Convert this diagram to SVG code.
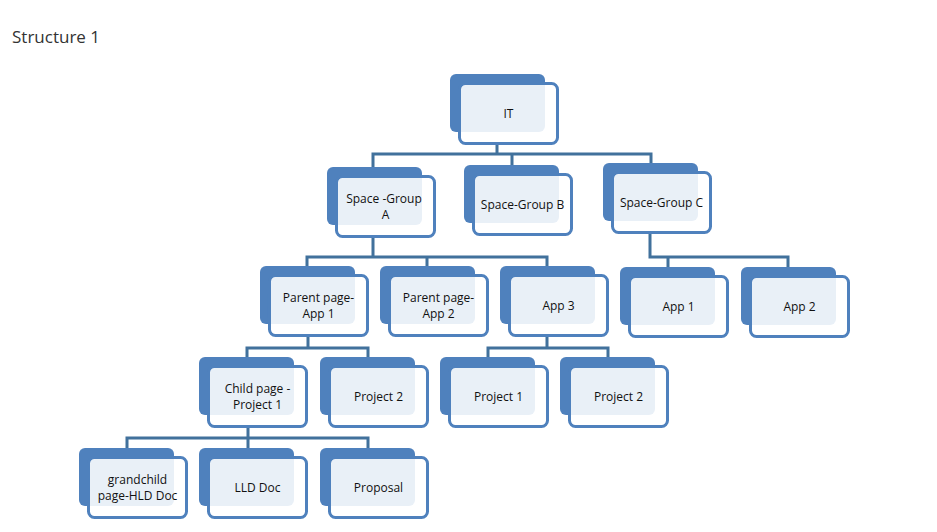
<svg xmlns="http://www.w3.org/2000/svg" width="937" height="532" viewBox="0 0 937 532">
<style>
.bk{fill:#4f81bd}
.fr{fill:#fff;fill-opacity:0.88;stroke:#4f81bd;stroke-width:3}
.t{font-family:"Open Sans","Liberation Sans",sans-serif;font-size:12px;fill:#111;text-anchor:middle}
.title{font-family:"Open Sans","Liberation Sans",sans-serif;font-size:17px;fill:#333}
.c{fill:none;stroke:#41719c;stroke-width:3}
</style>
<defs>
<g id="box"><rect class="bk" x="0" y="0" width="95" height="58" rx="6"/><rect class="fr" x="9.5" y="9.5" width="98" height="60" rx="6"/></g>
</defs>
<rect width="937" height="532" fill="#fff"/>
<text class="title" x="12" y="43">Structure 1</text>
<g id="connectors">
<path class="c" d="M497,143 V154 M373,167 V154 H651 V163 M512,154 V165"/>
<path class="c" d="M373,237 V257 M307,266 V257 H547 V266 M427,257 V266"/>
<path class="c" d="M650,233 V257 H788 V267 M668,257 V267"/>
<path class="c" d="M308,337 V348 M247,357 V348 H368 V357"/>
<path class="c" d="M547,337 V348 M488,357 V348 H608 V357"/>
<path class="c" d="M248,428 V438 M127,448 V438 H368 V448 M248,438 V448"/>
</g>
<g id="n-it" transform="translate(450,74)"><use href="#box"/><text class="t" x="58.5" y="39.5" dy="0.35em">IT</text></g>
<g id="n-sga" transform="translate(327,167)"><use href="#box"/><text class="t" x="58.5" y="39.5"><tspan x="57" dy="-3.5">Space -Group</tspan><tspan x="58.5" dy="16">A</tspan></text></g>
<g id="n-sgb" transform="translate(464,165)"><use href="#box"/><text class="t" x="58.5" y="39.5" dy="0.35em">Space-Group B</text></g>
<g id="n-sgc" transform="translate(603,163)"><use href="#box"/><text class="t" x="58.5" y="39.5" dy="0.35em">Space-Group C</text></g>
<g id="n-ppa1" transform="translate(260,266)"><use href="#box"/><text class="t" x="58.5" y="39.5"><tspan x="58.5" dy="-3.5">Parent page-</tspan><tspan x="58.5" dy="16">App 1</tspan></text></g>
<g id="n-ppa2" transform="translate(380,266)"><use href="#box"/><text class="t" x="58.5" y="39.5"><tspan x="58.5" dy="-3.5">Parent page-</tspan><tspan x="58.5" dy="16">App 2</tspan></text></g>
<g id="n-app3" transform="translate(500,266)"><use href="#box"/><text class="t" x="58.5" y="39.5" dy="0.35em">App 3</text></g>
<g id="n-app1" transform="translate(620,267)"><use href="#box"/><text class="t" x="58.5" y="39.5" dy="0.35em">App 1</text></g>
<g id="n-app2" transform="translate(741,267)"><use href="#box"/><text class="t" x="58.5" y="39.5" dy="0.35em">App 2</text></g>
<g id="n-child" transform="translate(199,357)"><use href="#box"/><text class="t" x="58.5" y="39.5"><tspan x="58.5" dy="-3.5">Child page -</tspan><tspan x="58.5" dy="16">Project 1</tspan></text></g>
<g id="n-proj2a" transform="translate(320,357)"><use href="#box"/><text class="t" x="58.5" y="39.5" dy="0.35em">Project 2</text></g>
<g id="n-proj1" transform="translate(440,357)"><use href="#box"/><text class="t" x="58.5" y="39.5" dy="0.35em">Project 1</text></g>
<g id="n-proj2b" transform="translate(560,357)"><use href="#box"/><text class="t" x="58.5" y="39.5" dy="0.35em">Project 2</text></g>
<g id="n-grand" transform="translate(79,448)"><use href="#box"/><text class="t" x="58.5" y="39.5"><tspan x="58.5" dy="-3.5">grandchild</tspan><tspan x="58.5" dy="16">page-HLD Doc</tspan></text></g>
<g id="n-lld" transform="translate(199,448)"><use href="#box"/><text class="t" x="58.5" y="39.5" dy="0.35em">LLD Doc</text></g>
<g id="n-proposal" transform="translate(320,448)"><use href="#box"/><text class="t" x="58.5" y="39.5" dy="0.35em">Proposal</text></g>
</svg>
